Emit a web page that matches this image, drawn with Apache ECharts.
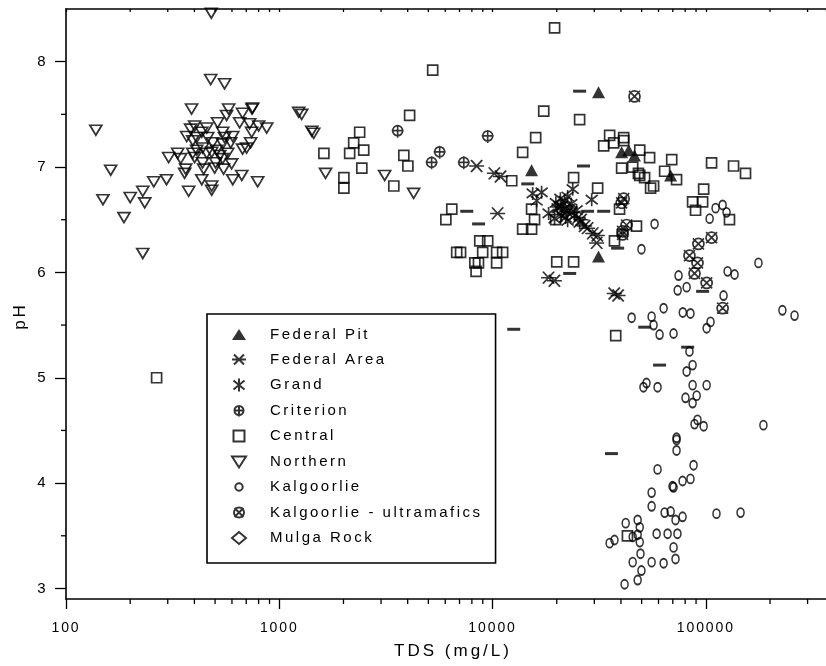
<!DOCTYPE html>
<html><head><meta charset="utf-8">
<script src="https://cdn.jsdelivr.net/npm/echarts@6/dist/echarts.min.js"></script>
<style>html,body{margin:0;padding:0;background:#fff}#c{width:826px;height:666px}</style>
</head><body><div id="c"></div>
<script>
// ---- data: [TDS mg/L, pH] ----
const federalPit = [[31400,7.71],[15240,6.97],[40300,7.14],[43500,7.16],[46300,7.11],[68400,6.92],[31400,6.15]];
const federalArea = [[8420,7.01],[10200,6.94],[10900,6.91],[10560,6.56],[27020,6.44],[27910,6.42],[29500,6.37],[31000,6.35],[30780,6.28],[18300,5.95],[19500,5.92],[37200,5.80],[38800,5.78],[26000,6.50],[20500,6.62],[23500,6.57],[25200,6.52]];
const grand = [[15420,6.75],[16990,6.76],[16100,6.68],[29170,6.69],[23760,6.79],[21770,6.68],[23000,6.61],[24790,6.59],[20180,6.61],[21080,6.54],[22490,6.49],[24270,6.54],[25600,6.47],[18320,6.56],[19540,6.51],[21080,6.63],[22490,6.72],[21500,6.60],[22300,6.57],[20800,6.70],[23400,6.65],[19800,6.66],[22000,6.52]];
const criterion = [[3590,7.34],[5650,7.14],[5180,7.04],[7330,7.04],[9490,7.29]];
const central = [[266,5.00],[4085,7.49],[2382,7.33],[2233,7.23],[2489,7.16],[1619,7.13],[2138,7.13],[2438,6.99],[2009,6.90],[2009,6.80],[3837,7.11],[4009,7.01],[3444,6.82],[6440,6.60],[6040,6.50],[8710,6.30],[9490,6.30],[6790,6.19],[7080,6.19],[8990,6.19],[10450,6.19],[11150,6.19],[8260,6.09],[8590,6.09],[10450,6.09],[8370,6.01],[13840,7.14],[23990,6.90],[12300,6.87],[15240,6.60],[15740,6.50],[13840,6.41],[15240,6.41],[19760,6.50],[20000,6.10],[23990,6.10],[19540,8.32],[5240,7.92],[17380,7.53],[25600,7.45],[15930,7.28],[31100,6.80],[35400,7.30],[33200,7.20],[36980,7.23],[41200,7.28],[41200,7.25],[49000,7.16],[54500,7.09],[40300,6.99],[45400,7.00],[48300,6.94],[49000,6.92],[51640,6.90],[55080,6.80],[56900,6.82],[69200,7.07],[64100,6.96],[72900,6.88],[106400,7.04],[134900,7.01],[153500,6.94],[97700,6.79],[86700,6.67],[96600,6.67],[89500,6.59],[129100,6.50],[47300,6.44],[37300,6.30],[39400,6.60],[37800,5.40],[42900,3.50]];
const northern = [[480,8.46],[477,7.83],[554,7.79],[388,7.55],[138,7.35],[162,6.97],[579,7.55],[745,7.55],[1233,7.52],[149,6.69],[200,6.71],[229,6.77],[234,6.66],[187,6.52],[229,6.18],[258,6.86],[296,6.88],[303,7.09],[334,7.13],[345,7.08],[364,6.98],[360,6.94],[376,6.77],[433,6.88],[482,6.82],[482,6.78],[605,6.88],[667,6.92],[792,6.86],[873,7.37],[800,7.39],[742,7.33],[726,7.41],[652,7.42],[673,7.51],[750,7.56],[566,7.49],[514,7.42],[457,7.37],[401,7.39],[384,7.36],[368,7.29],[393,7.25],[410,7.28],[433,7.33],[462,7.28],[487,7.23],[543,7.33],[554,7.28],[605,7.29],[592,7.23],[543,7.22],[509,7.16],[482,7.14],[437,7.18],[410,7.16],[393,7.13],[401,7.09],[457,7.13],[526,7.11],[573,7.13],[437,7.04],[503,7.04],[543,7.08],[598,7.03],[548,6.98],[498,6.99],[442,6.98],[673,7.17],[703,7.18],[734,7.23],[1274,7.50],[1420,7.34],[1450,7.32],[1648,6.94],[3120,6.92],[4266,6.75]];
const kalgoorlie = [[49900,6.22],[57500,6.46],[111100,6.61],[119900,6.64],[125100,6.57],[104200,6.51],[176500,6.09],[126500,6.01],[136400,5.98],[74500,5.97],[81300,5.86],[73800,5.83],[121100,5.78],[228600,5.64],[260600,5.59],[63400,5.66],[78000,5.62],[84700,5.61],[44900,5.57],[55700,5.58],[56900,5.50],[60700,5.41],[70600,5.42],[105200,5.53],[100900,5.47],[83800,5.25],[86700,5.12],[81300,5.06],[51000,4.91],[52700,4.95],[59400,4.91],[86700,4.93],[100900,4.93],[80300,4.81],[90600,4.83],[86700,4.76],[91400,4.60],[88500,4.56],[97700,4.54],[186200,4.55],[72900,4.43],[72900,4.41],[72900,4.31],[59400,4.13],[87600,4.17],[77800,4.02],[69800,3.97],[70600,3.96],[84700,4.04],[55700,3.91],[55700,3.78],[64100,3.72],[68400,3.73],[72100,3.65],[77800,3.68],[112200,3.71],[145500,3.72],[47900,3.65],[42100,3.62],[49000,3.58],[47900,3.51],[45400,3.49],[49000,3.44],[37300,3.46],[35400,3.43],[58800,3.52],[66200,3.52],[73600,3.52],[70600,3.39],[49400,3.33],[72100,3.28],[45400,3.25],[55700,3.25],[63400,3.24],[49900,3.17],[47900,3.08],[41600,3.04]];
const ultramafics = [[46300,7.67],[41200,6.70],[40300,6.66],[42500,6.45],[40700,6.39],[40700,6.36],[83800,6.16],[92300,6.27],[106400,6.33],[91400,6.09],[88500,5.99],[100900,5.90],[119900,5.66]];
const mulgaRock = [];
const unlabelled = [[25600,7.72],[26700,7.01],[14620,6.84],[7570,6.58],[8600,6.46],[27900,6.58],[33200,6.58],[38600,6.23],[23000,5.99],[96600,5.82],[12570,5.46],[51700,5.48],[82200,5.29],[60700,5.12],[36100,4.28]];

const X_MIN = 100, X_MAX = 366000, Y_MIN = 2.9, Y_MAX = 8.5;
const xMinorTicks = [200,300,400,500,600,700,800,900,2000,3000,4000,5000,6000,7000,8000,9000,20000,30000,40000,50000,60000,70000,80000,90000,200000,300000];
const yMinorTicks = [3.5,4.5,5.5,6.5,7.5];
const legendNames = ['Federal Pit','Federal Area','Grand','Criterion','Central','Northern','Kalgoorlie','Kalgoorlie - ultramafics','Mulga Rock'];

// ---- text letter spacing (reference text is widely spaced) ----
(function(){
  const proto = CanvasRenderingContext2D.prototype;
  const orig = proto.fillText;
  if (!('letterSpacing' in proto)) return;
  proto.fillText = function(){
    const m = /(\d+(?:\.\d+)?)px/.exec(this.font || '');
    const fs = m ? Math.round(parseFloat(m[1])) : 12;
    const sp = {14:'1.9px', 15:'2.5px', 17:'3px'}[fs] || '0px';
    this.letterSpacing = sp;
    const r = orig.apply(this, arguments);
    this.letterSpacing = '0px';
    return r;
  };
})();

// ---- styles ----
const FONT = 'Liberation Sans, Arial, sans-serif';
const LW = 1.7;
const open = {color:'rgba(0,0,0,0)', borderColor:'#000', borderWidth:LW};
const P_FEDAREA = 'path://M0,0L12,12M12,0L0,12M-2,6L14,6';
const P_GRAND = 'path://M0,1L12,11M12,1L0,11M6,-1L6,13';
const P_CRIT = 'path://M1,6A5,5,0,1,1,11,6A5,5,0,1,1,1,6ZM6,0L6,13M0,6L12,6';
const P_ULTRA = 'path://M1,6A5,5,0,1,1,11,6A5,5,0,1,1,1,6ZM1,1L11,11M11,1L1,11';
const FR = 'path://M0,0M14,14';
const legendIcons = [
  FR+'M0,12.5L7,1.5L14,12.5Z',
  FR+'M2,2L12,12M12,2L2,12M0,7L14,7',
  FR+'M1.5,2.5L12.5,11.5M12.5,2.5L1.5,11.5M7,0.5L7,13.5',
  FR+'M2.5,7A4.5,4.5,0,1,1,11.5,7A4.5,4.5,0,1,1,2.5,7ZM7,2L7,13M2,7L12,7',
  FR+'M1.5,1.5L12.5,1.5L12.5,12.5L1.5,12.5Z',
  FR+'M0,2L14,2L7,13Z',
  FR+'M3.3,7A3.7,3.7,0,1,1,10.7,7A3.7,3.7,0,1,1,3.3,7Z',
  FR+'M2,7A5,5,0,1,1,12,7A5,5,0,1,1,2,7ZM2.5,2.5L11.5,11.5M11.5,2.5L2.5,11.5',
  FR+'M0,7L7,1L14,7L7,13Z'
];

function sc(name, data, symbol, size, style, extra){
  return Object.assign({type:'scatter', name, data, symbol, symbolSize:size,
    itemStyle:style, emphasis:{disabled:true}, silent:true, z:3}, extra||{});
}
function tickSeries(data, kind){
  return {type:'custom', silent:true, z:5, clip:false, data,
    renderItem:function(params, api){
      const p = api.coord([api.value(0), api.value(1)]);
      let s;
      if (kind==='b') s={x1:p[0],y1:p[1],x2:p[0],y2:p[1]+5};
      else if (kind==='t') s={x1:p[0],y1:p[1],x2:p[0],y2:p[1]+3};
      else s={x1:p[0]-5,y1:p[1],x2:p[0],y2:p[1]};
      return {type:'line', shape:s, style:{stroke:'#000', lineWidth:1.3}};
    }};
}

const dom = document.getElementById('c');
const chart = echarts.init(dom, null, {renderer:'canvas'});

const axisCommon = {type:'log', logBase:10, min:X_MIN, max:X_MAX, splitLine:{show:false}, minorTick:{show:false}, minorSplitLine:{show:false}};
const option = {
  animation:false,
  backgroundColor:'#fff',
  textStyle:{fontFamily:FONT, color:'#000'},
  grid:{left:66, right:0, top:9, bottom:67, containLabel:false},
  legend:{
    data:legendNames.map((n,i)=>({name:n, icon:legendIcons[i]})),
    orient:'vertical', left:207, top:314,
    itemWidth:52, itemHeight:14, itemGap:9.5,
    padding:[13,73,17,24], borderColor:'#000', borderWidth:1.6, backgroundColor:'#fff',
    textStyle:{fontFamily:FONT, fontSize:15, color:'#000'},
    selectedMode:false
  },
  xAxis:[
    Object.assign({}, axisCommon, {position:'bottom', name:'TDS (mg/L)', nameLocation:'middle', nameGap:44,
      nameTextStyle:{fontFamily:FONT, fontSize:17, color:'#000', padding:[0,0,0,14]},
      axisLine:{onZero:false, lineStyle:{color:'#000', width:1.6}},
      axisTick:{inside:false, length:10, lineStyle:{color:'#000', width:1.3}},
      axisLabel:{fontFamily:FONT, fontSize:14, color:'#000', margin:22, showMaxLabel:false,
        formatter:function(v){return String(Math.round(v));}}}),
    Object.assign({}, axisCommon, {position:'top',
      axisLine:{onZero:false, lineStyle:{color:'#000', width:1.6}},
      axisTick:{inside:true, length:3, lineStyle:{color:'#000', width:1.3}},
      axisLabel:{show:false}})
  ],
  yAxis:{type:'value', min:Y_MIN, max:Y_MAX, splitLine:{show:false},
    name:'pH', nameLocation:'middle', nameGap:34, nameRotate:90,
    nameTextStyle:{fontFamily:FONT, fontSize:17, color:'#000', padding:[0,24,0,0]},
    axisLine:{onZero:false, lineStyle:{color:'#000', width:1.6}},
    axisTick:{inside:false, length:11, lineStyle:{color:'#000', width:1.3}},
    axisLabel:{fontFamily:FONT, fontSize:15, color:'#000', margin:18, showMinLabel:false, showMaxLabel:false}},
  series:[
    sc('Federal Pit', federalPit, 'triangle', [13,12], {color:'#000', borderColor:'#000', borderWidth:0}),
    sc('Federal Area', federalArea, P_FEDAREA, [15,12], open),
    sc('Grand', grand, P_GRAND, [12,13], open),
    sc('Criterion', criterion, P_CRIT, [12,13], open),
    sc('Central', central, 'rect', [10,10], open),
    sc('Northern', northern, 'triangle', [12,10], open, {symbolRotate:180}),
    sc('Kalgoorlie', kalgoorlie, 'circle', [7,9], open),
    sc('Kalgoorlie - ultramafics', ultramafics, P_ULTRA, [11,11], open),
    sc('Mulga Rock', mulgaRock, 'diamond', [13,13], open),
    sc('unlabelled', unlabelled, 'rect', [13,3], {color:'#000', borderWidth:0}),
    tickSeries(xMinorTicks.map(v=>[v, Y_MIN]), 'b'),
    tickSeries(xMinorTicks.map(v=>[v, Y_MAX]), 't'),
    tickSeries(yMinorTicks.map(v=>[X_MIN, v]), 'l')
  ]
};
chart.setOption(option);
</script></body></html>
